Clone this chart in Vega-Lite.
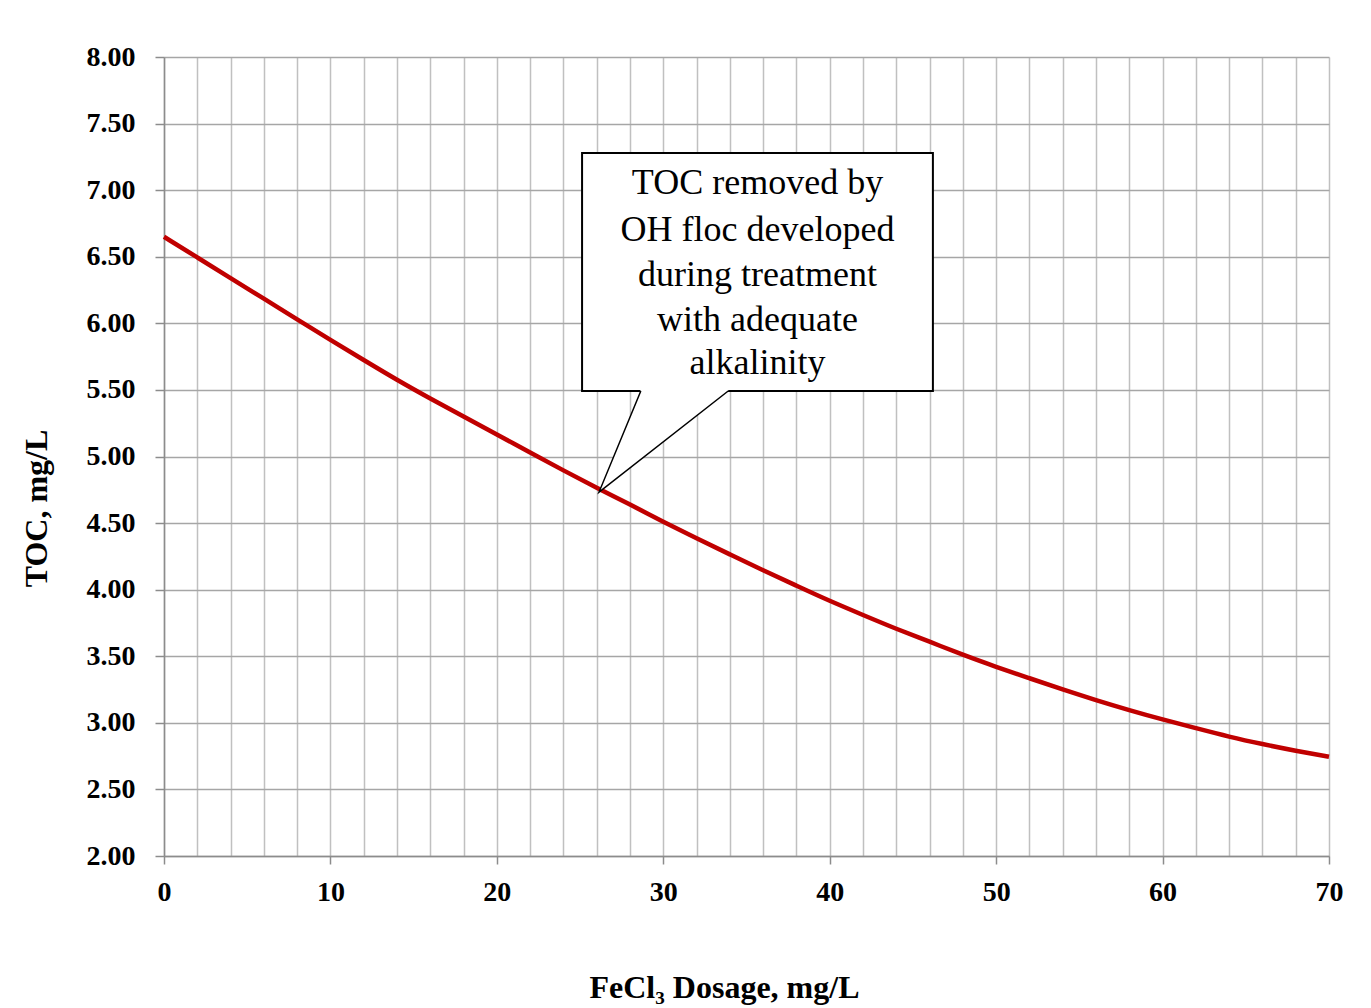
{
  "$schema": "https://vega.github.io/schema/vega-lite/v6.json",
  "autosize": "none",
  "width": 1165,
  "height": 799,
  "padding": {"left": 164, "top": 57, "right": 42, "bottom": 152},
  "background": "white",
  "config": {
    "view": {"stroke": null},
    "font": "Liberation Serif",
    "axis": {
      "labelFont": "Liberation Serif",
      "labelFontWeight": "bold",
      "labelFontSize": 28,
      "labelColor": "black",
      "titleFont": "Liberation Serif",
      "titleFontWeight": "bold",
      "titleFontSize": 32,
      "titleColor": "black",
      "domainColor": "#8c8c8c",
      "domainWidth": 1.5,
      "tickColor": "#8c8c8c",
      "tickWidth": 1.5,
      "gridWidth": 1.5
    }
  },
  "datasets": {
    "curve": [
      {"x": 0, "y": 6.65}, {"x": 2, "y": 6.495}, {"x": 4, "y": 6.34},
      {"x": 6, "y": 6.185}, {"x": 8, "y": 6.03}, {"x": 10, "y": 5.875},
      {"x": 12, "y": 5.725}, {"x": 14, "y": 5.575}, {"x": 16, "y": 5.435},
      {"x": 18, "y": 5.3}, {"x": 20, "y": 5.165}, {"x": 22, "y": 5.03},
      {"x": 24, "y": 4.895}, {"x": 26, "y": 4.765}, {"x": 28, "y": 4.64},
      {"x": 30, "y": 4.51}, {"x": 32, "y": 4.385}, {"x": 34, "y": 4.265},
      {"x": 36, "y": 4.145}, {"x": 38, "y": 4.03}, {"x": 40, "y": 3.915},
      {"x": 42, "y": 3.81}, {"x": 44, "y": 3.705}, {"x": 46, "y": 3.61},
      {"x": 48, "y": 3.51}, {"x": 50, "y": 3.42}, {"x": 52, "y": 3.335},
      {"x": 54, "y": 3.25}, {"x": 56, "y": 3.17}, {"x": 58, "y": 3.095},
      {"x": 60, "y": 3.025}, {"x": 62, "y": 2.96}, {"x": 64, "y": 2.895},
      {"x": 66, "y": 2.84}, {"x": 68, "y": 2.79}, {"x": 70, "y": 2.745}
    ],
    "box": [{"x": 25.12, "xb": 46.2, "y": 5.492, "yb": 7.279}],
    "wedge": [
      {"x": 26.14, "y": 4.733, "yb": 4.733},
      {"x": 28.65, "y": 4.979, "yb": 5.503},
      {"x": 33.9, "y": 5.492, "yb": 5.503}
    ],
    "pointer": [
      {"x": 28.65, "y": 5.492, "k": 1},
      {"x": 26.14, "y": 4.733, "k": 2},
      {"x": 33.9, "y": 5.492, "k": 3}
    ],
    "note": [
      {"x": 35.66, "y": 7.052, "line": "TOC removed by"},
      {"x": 35.66, "y": 6.699, "line": "OH floc developed"},
      {"x": 35.66, "y": 6.361, "line": "during treatment"},
      {"x": 35.66, "y": 6.023, "line": "with adequate"},
      {"x": 35.66, "y": 5.7, "line": "alkalinity"}
    ]
  },
  "encoding": {
    "x": {
      "field": "x", "type": "quantitative",
      "scale": {"domain": [0, 70], "nice": false, "zero": false},
      "axis": {
        "title": "FeCl₃ Dosage, mg/L",
        "values": [0, 2, 4, 6, 8, 10, 12, 14, 16, 18, 20, 22, 24, 26, 28, 30, 32, 34, 36, 38, 40, 42, 44, 46, 48, 50, 52, 54, 56, 58, 60, 62, 64, 66, 68, 70],
        "labelExpr": "datum.value % 10 === 0 ? datum.label : ''",
        "labelOverlap": false,
        "tickOpacity": {"condition": {"test": "datum.value % 10 === 0", "value": 1}, "value": 0},
        "tickSize": 8,
        "labelPadding": 14,
        "labelFlush": false,
        "gridColor": "#c0c0c0",
        "titleX": 560,
        "titleY": 131,
        "titleBaseline": "middle",
        "titleAlign": "center"
      }
    },
    "y": {
      "field": "y", "type": "quantitative",
      "scale": {"domain": [2, 8], "nice": false, "zero": false},
      "axis": {
        "title": "TOC, mg/L",
        "values": [2, 2.5, 3, 3.5, 4, 4.5, 5, 5.5, 6, 6.5, 7, 7.5, 8],
        "format": ".2f",
        "labelOverlap": false,
        "tickSize": 9,
        "labelPadding": 20,
        "labelFlush": false,
        "gridColor": "#a6a6a6",
        "titleX": -128,
        "titleY": 451,
        "titleBaseline": "middle",
        "titleAlign": "center",
        "titleAngle": -90
      }
    }
  },
  "layer": [
    {
      "data": {"name": "curve"},
      "mark": {"type": "line", "color": "#c00000", "strokeWidth": 4.5, "interpolate": "basis"}
    },
    {
      "data": {"name": "box"},
      "mark": {"type": "rect", "fill": "white", "stroke": "black", "strokeWidth": 2},
      "encoding": {
        "x2": {"field": "xb"},
        "y2": {"field": "yb"}
      }
    },
    {
      "data": {"name": "wedge"},
      "mark": {"type": "area", "fill": "white", "stroke": null, "orient": "vertical"},
      "encoding": {
        "y2": {"field": "yb"}
      }
    },
    {
      "data": {"name": "pointer"},
      "mark": {"type": "line", "color": "black", "strokeWidth": 1.5},
      "encoding": {
        "order": {"field": "k", "type": "quantitative"}
      }
    },
    {
      "data": {"name": "note"},
      "mark": {"type": "text", "font": "Liberation Serif", "fontSize": 36, "color": "black", "align": "center", "baseline": "middle"},
      "encoding": {
        "text": {"field": "line", "type": "nominal"}
      }
    }
  ]
}
